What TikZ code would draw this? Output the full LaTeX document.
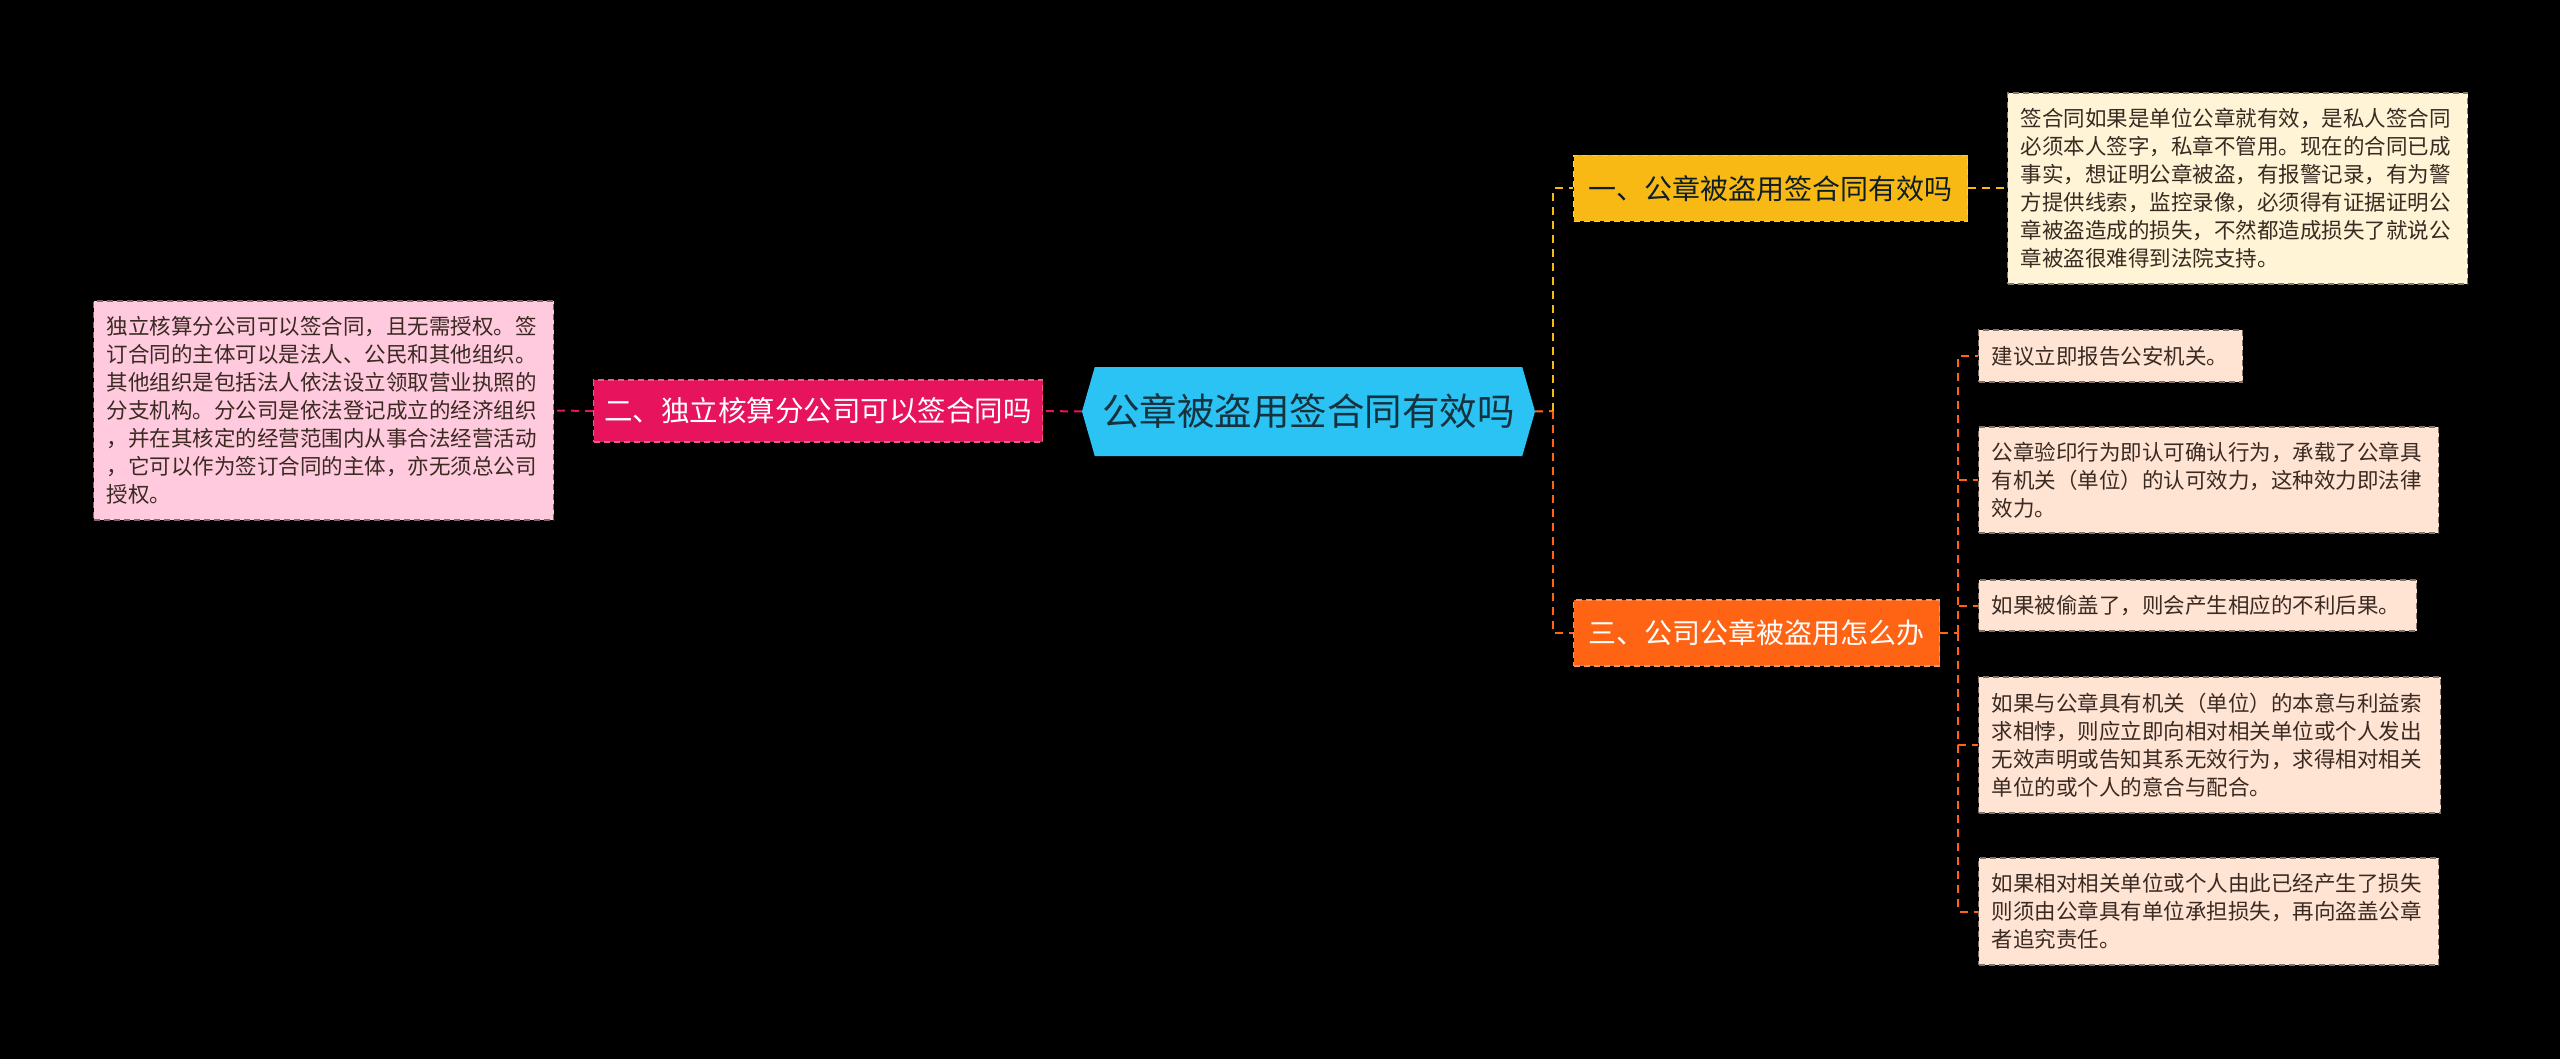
\documentclass[tikz,border=0pt]{standalone}
\usepackage{fontspec}
\setmainfont{Noto Sans CJK SC}
\usetikzlibrary{shapes.symbols}
\definecolor{cyanc}{HTML}{2BC3F3}
\definecolor{ctext}{HTML}{16323F}
\definecolor{pinkc}{HTML}{E8135D}
\definecolor{pinkleaf}{HTML}{FFC9DE}
\definecolor{yelc}{HTML}{F9B914}
\definecolor{yelleaf}{HTML}{FFF4D6}
\definecolor{orc}{HTML}{FF6314}
\definecolor{orleaf}{HTML}{FFE3D3}
\definecolor{leaftext}{HTML}{3A2A22}
\tikzset{
  centerbox/.style={shape=signal, signal to=west and east, signal pointer angle=148,
    fill=cyanc, text=ctext, minimum width=453pt, minimum height=89pt, inner sep=0pt,
    font=\fontsize{37.5}{40}\selectfont},
  branchbox/.style={draw=#1!70!white, fill=#1, dash pattern=on 6pt off 4pt, line width=1.2pt,
    inner sep=0pt, font=\fontsize{28}{32}\selectfont, anchor=west},
  leafbox/.style={fill=#1, draw=#1!50!black, dash pattern=on 6pt off 4pt, line width=1.2pt,
    align=left, inner xsep=13pt, inner ysep=0pt, text=leaftext,
    font=\fontsize{21.5}{28}\selectfont, anchor=west},
  link/.style={draw=#1, line width=2pt, dash pattern=on 8pt off 6pt},
}
\begin{document}
\begin{tikzpicture}[x=1pt,y=-1pt]
\fill[black] (0,0) rectangle (2560,1059);
\useasboundingbox (0,0) rectangle (2560,1059);

% central
\node[centerbox] (c) at (1308.5,411.5) {公章被盗用签合同有效吗};

% left branch
\node[branchbox=pinkc, text=white, minimum width=449pt, minimum height=62pt,
  font=\fontsize{28.5}{32}\selectfont] (lb) at (593,411) {二、独立核算分公司可以签合同吗};
\node[leafbox=pinkleaf, text width=434pt, minimum height=219pt] (ll) at (93,410.5)
{独立核算分公司可以签合同，且无需授权。签\\
订合同的主体可以是法人、公民和其他组织。\\
其他组织是包括法人依法设立领取营业执照的\\
分支机构。分公司是依法登记成立的经济组织\\
，并在其核定的经营范围内从事合法经营活动\\
，它可以作为签订合同的主体，亦无须总公司\\
授权。};

% right branch 1
\node[branchbox=yelc, text=ctext!60!black, minimum width=394pt, minimum height=66pt] (b1) at (1573,188.5) {一、公章被盗用签合同有效吗};
\node[leafbox=yelleaf, text width=434pt, minimum height=191pt] (l1) at (2007,188.5)
{签合同如果是单位公章就有效，是私人签合同\\
必须本人签字，私章不管用。现在的合同已成\\
事实，想证明公章被盗，有报警记录，有为警\\
方提供线索，监控录像，必须得有证据证明公\\
章被盗造成的损失，不然都造成损失了就说公\\
章被盗很难得到法院支持。};

% right branch 3
\node[branchbox=orc, text=white, minimum width=366pt, minimum height=66pt] (b3) at (1573,633) {三、公司公章被盗用怎么办};
\node[leafbox=orleaf, text width=238pt, minimum height=52pt] (la) at (1978,356) {建议立即报告公安机关。};
\node[leafbox=orleaf, text width=434pt, minimum height=106pt] (lb3) at (1978,480)
{公章验印行为即认可确认行为，承载了公章具\\
有机关（单位）的认可效力，这种效力即法律\\
效力。};
\node[leafbox=orleaf, text width=412pt, minimum height=51pt] (lc) at (1978,605.5) {如果被偷盖了，则会产生相应的不利后果。};
\node[leafbox=orleaf, text width=436pt, minimum height=136pt] (ld) at (1978,745)
{如果与公章具有机关（单位）的本意与利益索\\
求相悖，则应立即向相对相关单位或个人发出\\
无效声明或告知其系无效行为，求得相对相关\\
单位的或个人的意合与配合。};
\node[leafbox=orleaf, text width=434pt, minimum height=107pt] (le) at (1978,911.5)
{如果相对相关单位或个人由此已经产生了损失\\
则须由公章具有单位承担损失，再向盗盖公章\\
者追究责任。};

% connectors
\coordinate (tr) at (1553,411);
\coordinate (t3) at (1958,633);
\draw[link=pinkc] (c.west) -- (lb.east);
\draw[link=pinkc] (lb.west) -- (ll.east);
\draw[link=orc] (c.east) -- (tr);
\draw[link=yelc] (tr) |- (b1.west);
\draw[link=orc] (tr) |- (b3.west);
\draw[link=yelc] (b1.east) -- (l1.west);
\draw[link=orc] (b3.east) -- (t3);
\draw[link=orc] (t3) |- (la.west);
\draw[link=orc] (t3) |- (lb3.west);
\draw[link=orc] (t3) |- (lc.west);
\draw[link=orc] (t3) |- (ld.west);
\draw[link=orc] (t3) |- (le.west);
\end{tikzpicture}
\end{document}
